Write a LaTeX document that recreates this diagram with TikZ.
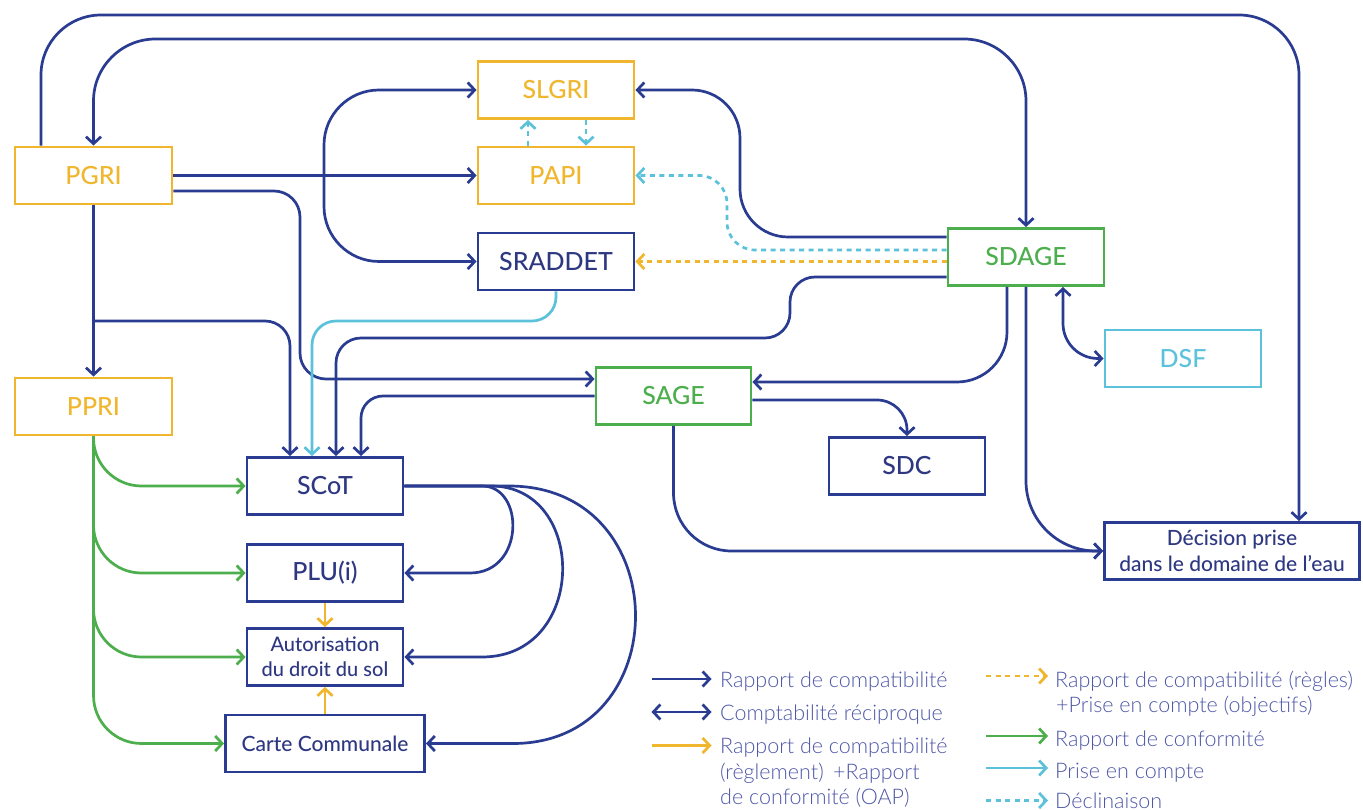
\documentclass[tikz,border=0pt]{standalone}
\usepackage{fontspec}
\setmainfont{Lato}
\IfFontExistsTF{Lato Light}{\newfontfamily\legfont{Lato Light}}{\newfontfamily\legfont{Lato}}
\IfFontExistsTF{Lato Medium}{\newfontfamily\boxfont{Lato Medium}}{\newfontfamily\boxfont{Lato}}
\usetikzlibrary{arrows.meta}
\definecolor{navy}{RGB}{42,60,145}
\definecolor{navytext}{RGB}{46,56,130}
\definecolor{legtext}{RGB}{78,88,168}
\definecolor{orng}{RGB}{240,182,45}
\definecolor{grn}{RGB}{76,174,76}
\definecolor{cyn}{RGB}{92,194,220}
\tikzset{
  >={Straight Barb[length=7pt,width=15pt]},
  bx/.style={draw, line width=2.9pt, inner sep=0pt, minimum height=57pt, align=center, font=\boxfont\fontsize{25}{28}\selectfont},
  conn/.style={draw=navy, line width=2.7pt, ->},
  both/.style={draw=navy, line width=2.7pt, <->},
  grnc/.style={draw=grn, line width=2.7pt, ->},
  orc/.style={draw=orng, line width=2.7pt, ->},
  cync/.style={draw=cyn, line width=2.7pt, ->},
  dcyn/.style={cync, dash pattern=on 5pt off 4.5pt},
  dorng/.style={orc, dash pattern=on 5pt off 4.5pt},
  leg/.style={anchor=base west, inner sep=0pt, text=legtext, font=\legfont\fontsize{21.5}{26}\selectfont}
}
\begin{document}
\begin{tikzpicture}[x=1pt,y=-1pt]
\useasboundingbox[fill=white] (0,0) rectangle (1363,810);
% nodes
\node[bx, draw=orng, text=orng, minimum width=157pt] (PGRI) at (93.5,175.5) {PGRI};
\node[bx, draw=orng, text=orng, minimum width=156pt] (SLGRI) at (556,90) {SLGRI};
\node[bx, draw=orng, text=orng, minimum width=156pt] (PAPI) at (556,175.5) {PAPI};
\node[bx, draw=navy, text=navytext, minimum width=156pt] (SRADDET) at (556,261.5) {SRADDET};
\node[bx, draw=grn, text=grn, minimum width=156pt] (SDAGE) at (1026,257) {SDAGE};
\node[bx, draw=cyn, text=cyn, minimum width=156pt] (DSF) at (1183,358.5) {DSF};
\node[bx, draw=orng, text=orng, minimum width=157pt] (PPRI) at (93.5,406.5) {PPRI};
\node[bx, draw=grn, text=grn, minimum width=155pt] (SAGE) at (673.5,396) {SAGE};
\node[bx, draw=navy, text=navytext, minimum width=156pt] (SDC) at (907,466) {SDC};
\node[bx, draw=navy, text=navytext, minimum width=156pt] (SCoT) at (325,486) {SCoT};
\node[bx, draw=navy, text=navytext, minimum width=156pt] (PLU) at (325,573) {PLU(i)};
\node[bx, draw=navy, text=navytext, minimum width=156pt, font=\boxfont\fontsize{20}{25}\selectfont] (AUT) at (325,657) {Autorisation\\du droit du sol};
\node[bx, draw=navy, text=navytext, minimum width=199pt, font=\boxfont\fontsize{21}{26}\selectfont] (CC) at (325,743.5) {Carte Communale};
\node[bx, draw=navy, text=navytext, minimum width=255pt, font=\boxfont\fontsize{21}{26}\selectfont] (DEC) at (1232,551) {Décision prise\\dans le domaine de l’eau};
% connectors
\draw[conn, rounded corners=60pt] ([xshift=-52.5pt]PGRI.north) -- (41,15) -- (1299,15) -- ([xshift=67pt]DEC.north);
\draw[both, rounded corners=62pt] (PGRI.north) -- (93.5,39) -- (1026,39) -- (SDAGE.north);
\draw[conn, rounded corners=48pt] ([yshift=20pt]SDAGE.west) -- (740,237) -- (740,90) -- (SLGRI.east);
\draw[both, rounded corners=55pt] (SLGRI.west) -- (324,90) -- (324,261.5) -- (SRADDET.west);
\draw[conn] (PGRI.east) -- (PAPI.west);
\draw[conn, rounded corners=26pt] ([yshift=-15.5pt]PGRI.east) -- (300,191) -- (300,379) -- ([yshift=17pt]SAGE.west);
\draw[conn] (PGRI.south) -- (PPRI.north);
\coordinate (br) at (93.5,321);
\draw[conn, rounded corners=25pt] (br) -- (290,321) -- ([xshift=-35pt]SCoT.north);
\draw[cync, rounded corners=24pt] (SRADDET.south) -- (556,321) -- (312,321) -- ([xshift=-13pt]SCoT.north);
\draw[conn, rounded corners=25pt] ([yshift=-20pt]SDAGE.west) -- (790,277) -- (790,338) -- (336,338) -- ([xshift=11pt]SCoT.north);
\draw[conn, rounded corners=22pt] (SAGE.west) -- (361,396) -- ([xshift=36pt]SCoT.north);
\draw[conn, rounded corners=50pt] ([xshift=-19pt]SDAGE.south) -- (1007,382) -- ([yshift=14pt]SAGE.east);
\draw[conn, rounded corners=70pt] (SDAGE.south) -- (1026,551) -- (DEC.west);
\draw[conn, rounded corners=58pt] (SAGE.south) -- (673.5,551) -- (DEC.west);
\draw[conn, rounded corners=30pt] ([yshift=-4pt]SAGE.east) -- (907,400) -- (SDC.north);
\draw[both, rounded corners=35pt] ([xshift=37pt]SDAGE.south) -- (1063,358.5) -- (DSF.west);
\draw[dcyn, rounded corners=28pt] ([yshift=7pt]SDAGE.west) -- (727,250) -- (727,175.5) -- (PAPI.east);
\draw[dorng] (SDAGE.west |- SRADDET.east) -- (SRADDET.east);
\draw[dcyn] ([xshift=-28pt]PAPI.north) -- ([xshift=-28pt]SLGRI.south);
\draw[dcyn] ([xshift=30pt]SLGRI.south) -- ([xshift=30pt]PAPI.north);
% green from PPRI
\draw[grnc, rounded corners=48pt] (PPRI.south) -- (93.5,486) -- (SCoT.west);
\draw[grnc, rounded corners=48pt] (PPRI.south) -- (93.5,573) -- (PLU.west);
\draw[grnc, rounded corners=48pt] (PPRI.south) -- (93.5,657) -- (AUT.west);
\draw[grnc, rounded corners=48pt] (PPRI.south) -- (93.5,743.5) -- (CC.west);
% SCoT loops
\draw[conn] (SCoT.east) -- (482,486) .. controls (525,486) and (525,573) .. (470,573) -- (PLU.east);
\draw[conn] (SCoT.east) -- (491,486) .. controls (588,486) and (588,657) .. (482,657) -- (AUT.east);
\draw[conn] (SCoT.east) -- (509,486) .. controls (677,486) and (677,743.5) .. (513,743.5) -- (CC.east);
% orange
\draw[orc] (PLU.south) -- (AUT.north);
\draw[orc] (CC.north) -- (AUT.south);
% legend
\coordinate (la1) at (651.5,679); \coordinate (lb1) at (711.5,679);
\coordinate (la2) at (651.5,712); \coordinate (lb2) at (711.5,712);
\coordinate (la3) at (651.5,745.5); \coordinate (lb3) at (711.5,745.5);
\coordinate (la4) at (986,676); \coordinate (lb4) at (1048,676);
\coordinate (la5) at (986,736); \coordinate (lb5) at (1048,736);
\coordinate (la6) at (986,768); \coordinate (lb6) at (1048,768);
\coordinate (la7) at (986,800.5); \coordinate (lb7) at (1048,800.5);
\draw[conn] (la1) -- (lb1);
\draw[both] (la2) -- (lb2);
\draw[orc] (la3) -- (lb3);
\draw[dorng] (la4) -- (lb4);
\draw[grnc] (la5) -- (lb5);
\draw[cync] (la6) -- (lb6);
\draw[dcyn] (la7) -- (lb7);
\node[leg] (t1) at (720,687) {Rapport de compatibilité};
\node[leg] (t2) at (720,720) {Comptabilité réciproque};
\node[leg] (t3a) at (720,753) {Rapport de compatibilité};
\node[leg] (t3b) at (720,779) {(règlement) \,+Rapport};
\node[leg] (t3c) at (720,804) {de conformité (OAP)};
\node[leg] (t4a) at (1055,687) {Rapport de compatibilité (règles)};
\node[leg] (t4b) at (1056,712) {+Prise en compte (objectifs)};
\node[leg] (t5) at (1055,746) {Rapport de conformité};
\node[leg] (t6) at (1055,778) {Prise en compte};
\node[leg] (t7) at (1055,808) {Déclinaison};
\end{tikzpicture}
\end{document}
